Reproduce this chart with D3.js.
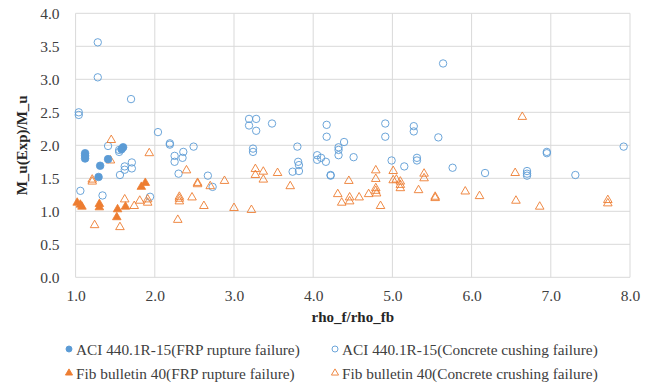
<!DOCTYPE html>
<html>
<head>
<meta charset="utf-8">
<script src="https://cdn.jsdelivr.net/npm/d3@7"></script>
<style>
  body { margin: 0; background: #fff; }
  svg text { font-family: "Liberation Serif", "Times New Roman", serif; fill: #262626; }
</style>
</head>
<body>
<svg width="650" height="383"></svg>
<script>
// ACI 440.1R-15, FRP rupture failure  [rho_f/rho_fb, M_u(Exp)/M_u]
var aciRupture = [[1.12,1.88],[1.12,1.84],[1.12,1.80],[1.31,1.69],[1.41,1.79],[1.60,1.97],[1.58,1.94],[1.29,1.52]];

// ACI 440.1R-15, concrete crushing failure
var aciCrushing = [[1.28,3.56],[1.28,3.03],[1.70,2.70],[1.04,2.50],[1.04,2.46],[2.04,2.20],[2.19,2.03],[2.19,2.01],
  [2.25,1.84],[2.25,1.75],[2.36,1.90],[2.35,1.81],[2.49,1.98],[2.30,1.57],[2.67,1.54],[2.73,1.37],[1.41,1.99],
  [1.55,1.93],[1.55,1.90],[1.62,1.68],[1.62,1.63],[1.71,1.74],[1.71,1.65],[1.56,1.55],[1.06,1.31],[1.34,1.24],
  [1.94,1.22],[3.19,2.40],[3.28,2.40],[3.19,2.30],[3.28,2.22],[3.48,2.33],[3.24,1.95],[3.24,1.90],[3.80,1.98],
  [3.81,1.75],[3.82,1.70],[3.82,1.61],[3.74,1.60],[4.05,1.85],[4.05,1.78],[4.10,1.81],[4.16,1.75],[4.17,2.31],
  [4.17,2.13],[4.22,1.55],[4.22,1.54],[4.32,1.97],[4.32,1.93],[4.32,1.85],[4.39,2.05],[4.51,1.82],[4.91,2.33],
  [4.91,2.13],[4.99,1.77],[5.15,1.68],[5.27,2.29],[5.27,2.21],[5.31,1.81],[5.31,1.77],[5.58,2.12],[5.64,3.24],
  [5.76,1.66],[6.17,1.58],[6.70,1.61],[6.70,1.57],[6.70,1.54],[6.95,1.90],[6.95,1.88],[7.31,1.55],[7.92,1.98]];

// Fib bulletin 40, FRP rupture failure
var fibRupture = [[1.02,1.13],[1.06,1.10],[1.08,1.07],[1.30,1.11],[1.30,1.06],[1.53,1.03],[1.63,1.07],[1.52,0.91],
  [1.88,1.43],[1.83,1.37]];

// Fib bulletin 40, concrete crushing failure
var fibCrushing = [[1.45,2.08],[1.93,1.88],[1.44,1.77],[1.21,1.48],[1.21,1.45],[1.24,0.79],[1.56,0.76],[1.62,1.18],
  [1.81,1.16],[1.74,1.08],[1.91,1.18],[1.91,1.13],[2.40,1.62],[2.54,1.43],[2.54,1.41],[2.70,1.38],[2.88,1.46],
  [2.31,1.22],[2.31,1.19],[2.31,1.15],[2.47,1.21],[2.62,1.08],[2.29,0.87],[3.00,1.05],[3.22,1.02],[3.27,1.64],
  [3.27,1.55],[3.37,1.60],[3.37,1.48],[3.55,1.58],[3.71,1.38],[4.45,1.46],[4.31,1.26],[4.36,1.13],[4.46,1.21],
  [4.46,1.15],[4.58,1.21],[4.70,1.26],[4.79,1.62],[4.79,1.49],[4.79,1.35],[4.79,1.31],[4.80,1.27],[4.85,1.08],
  [5.01,1.61],[5.01,1.47],[5.05,1.48],[5.10,1.45],[5.10,1.40],[5.10,1.35],[5.33,1.32],[5.40,1.57],[5.40,1.50],
  [5.54,1.22],[5.54,1.20],[5.92,1.30],[6.10,1.23],[6.64,2.43],[6.55,1.58],[6.56,1.16],[6.86,1.07],[7.72,1.17],
  [7.72,1.12]];

var xTicks = [1,2,3,4,5,6,7,8];
var yTicks = [0,0.5,1,1.5,2,2.5,3,3.5,4];
var legendLabels = ["ACI 440.1R-15(FRP rupture failure)", "ACI 440.1R-15(Concrete cushing failure)",
  "Fib bulletin 40(FRP rupture failure)", "Fib bulletin 40(Concrete crushing failure)"];

var blue = "#5b9bd5", orange = "#ed7d31";
var serif = "'Liberation Serif', 'Times New Roman', serif";

var svg = d3.select("svg");
var plotL = 75.6, plotR = 630, plotT = 13.3, plotB = 277.3;

var x = d3.scaleLinear().domain([1, 8]).range([plotL, plotR]);
var y = d3.scaleLinear().domain([0, 4]).range([plotB, plotT]);

//	gridlines
var grid = svg.append("g");
grid.selectAll(".hg").data(yTicks).enter().append("line")
  .attr("x1", plotL).attr("x2", plotR)
  .attr("y1", function(d) { return y(d); }).attr("y2", function(d) { return y(d); })
  .attr("stroke", "#d9d9d9").attr("stroke-width", 1);
grid.selectAll(".vg").data(xTicks).enter().append("line")
  .attr("y1", plotT).attr("y2", plotB)
  .attr("x1", function(d) { return x(d); }).attr("x2", function(d) { return x(d); })
  .attr("stroke", "#d9d9d9").attr("stroke-width", 1);

//	axes (labels only, no domain line)
var xAxis = svg.append("g")
  .attr("transform", "translate(0," + plotB + ")")
  .call(d3.axisBottom(x).tickValues(xTicks).tickFormat(d3.format(".1f")).tickSize(0).tickPadding(13));
var yAxis = svg.append("g")
  .attr("transform", "translate(" + plotL + ",0)")
  .call(d3.axisLeft(y).tickValues(yTicks).tickFormat(d3.format(".1f")).tickSize(0).tickPadding(16));
[xAxis, yAxis].forEach(function(a) {
  a.attr("font-family", null).attr("font-size", null);
  a.select(".domain").remove();
  a.selectAll("text").style("font-family", serif).style("font-size", "15.5px").style("fill", "#404040");
});

svg.append("text")
  .attr("x", (plotL + plotR) / 2).attr("y", 322)
  .attr("text-anchor", "middle")
  .style("font-family", serif).style("font-size", "15px").style("font-weight", "bold")
  .text("rho_f/rho_fb");

svg.append("text")
  .attr("transform", "translate(27," + ((plotT + plotB) / 2) + ") rotate(-90)")
  .attr("text-anchor", "middle")
  .style("font-family", serif).style("font-size", "15px").style("font-weight", "bold")
  .text("M_u(Exp)/M_u");

//	markers
var tri = d3.symbol().type(d3.symbolTriangle).size(32);
var pts = svg.append("g");

pts.selectAll(".ac").data(aciCrushing).enter().append("circle")
  .attr("cx", function(d) { return x(d[0]); }).attr("cy", function(d) { return y(d[1]); })
  .attr("r", 3.7).attr("fill", "none").attr("stroke", blue).attr("stroke-width", 0.9);

pts.selectAll(".fc").data(fibCrushing).enter().append("path")
  .attr("d", tri)
  .attr("transform", function(d) { return "translate(" + x(d[0]) + "," + y(d[1]) + ")"; })
  .attr("fill", "none").attr("stroke", orange).attr("stroke-width", 0.9);

pts.selectAll(".ar").data(aciRupture).enter().append("circle")
  .attr("cx", function(d) { return x(d[0]); }).attr("cy", function(d) { return y(d[1]); })
  .attr("r", 3.8).attr("fill", blue).attr("stroke", blue).attr("stroke-width", 0.8);

pts.selectAll(".fr").data(fibRupture).enter().append("path")
  .attr("d", tri)
  .attr("transform", function(d) { return "translate(" + x(d[0]) + "," + y(d[1]) + ")"; })
  .attr("fill", orange).attr("stroke", orange).attr("stroke-width", 0.8);

//	legend
var legX = [69, 335], legY = [349, 373];
var lg = svg.append("g");
legendLabels.forEach(function(label, i) {
  var lx = legX[i % 2], ly = legY[Math.floor(i / 2)];
  if (i < 2) {
    lg.append("circle").attr("cx", lx).attr("cy", ly).attr("r", 3)
      .attr("fill", i == 0 ? blue : "none").attr("stroke", blue).attr("stroke-width", 0.9);
  } else {
    lg.append("path").attr("d", d3.symbol().type(d3.symbolTriangle).size(22))
      .attr("transform", "translate(" + lx + "," + ly + ")")
      .attr("fill", i == 2 ? orange : "none").attr("stroke", orange).attr("stroke-width", 0.9);
  }
  lg.append("text").attr("x", lx + 7).attr("y", ly + 5.5)
    .style("font-family", serif).style("font-size", "15.3px").style("fill", "#404040")
    .text(label);
});
</script>
</body>
</html>
